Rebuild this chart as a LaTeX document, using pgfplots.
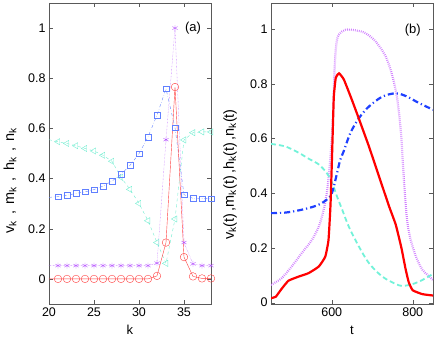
\documentclass[border=0pt]{standalone}
\usepackage{pgfplots}
\pgfplotsset{compat=1.18}
\usepackage{fontspec}
\setmainfont{Liberation Sans}

\definecolor{cred}{rgb}{1,0.25,0.25}
\definecolor{cblue}{rgb}{0.38,0.5,1}
\definecolor{ccyan}{rgb}{0.45,0.93,0.82}
\definecolor{cviol}{rgb}{0.72,0.35,1}
\definecolor{dred}{rgb}{1,0,0}
\definecolor{dblue}{rgb}{0.12,0.25,1}
\definecolor{dcyan}{rgb}{0.45,0.95,0.85}
\definecolor{dviol}{rgb}{0.82,0.5,1}

\newcommand{\sk}{\textsubscript{k}}

\pgfplotsset{
  panel/.style={
    scale only axis, width=162pt, height=301pt,
    tick align=inside, major tick length=4pt,
    axis line style={black!65}, tick style={black!65},
    every tick label/.append style={font=\fontsize{12.5}{14}\selectfont},
    label style={font=\fontsize{13}{15}\selectfont},
    ylabel style={font=\fontsize{14.5}{16}\selectfont},
    /pgf/number format/assume math mode=true,
    ytick={0,0.2,0.4,0.6,0.8,1},
    yticklabels={0,0.2,0.4,0.6,0.8,1},
    xlabel style={at={(axis description cs:0.5,0)},anchor=center,yshift=-26pt},
  }
}

\begin{document}
\begin{tikzpicture}
\useasboundingbox (-49pt,-36pt) rectangle (387pt,304pt);

% (a): profiles over k
\begin{axis}[panel, at={(0pt,0pt)}, anchor=south west,
  xmin=20, xmax=38, ymin=-0.1, ymax=1.1,
  xtick={20,25,30,35},
  xlabel={k},
  ylabel={v\sk\hspace{6pt},\hspace{6pt}m\sk\hspace{6pt},\hspace{6pt}h\sk\hspace{6pt},\hspace{6pt}n\sk},
  ylabel style={at={([xshift=-39pt]axis description cs:0,0.41)},anchor=center},
]
\addplot[cviol, densely dotted, mark=asterisk, mark size=3pt,
  mark indices={2,...,19}, mark options={solid}] coordinates {
  (20,0.053) (21,0.053) (22,0.053) (23,0.053) (24,0.053) (25,0.053)
  (26,0.053) (27,0.053) (28,0.053) (29,0.053) (30,0.053) (31,0.053)
  (32,0.063) (33,0.555) (34,1.0) (35,0.145) (36,0.06) (37,0.053) (38,0.053)
};
\addplot[ccyan, dashed, mark=triangle, mark size=3.6pt,
  mark indices={2,...,19}, mark options={solid, rotate=90}] coordinates {
  (20,0.555) (21,0.547) (22,0.54) (23,0.531) (24,0.52) (25,0.51)
  (26,0.493) (27,0.469) (28,0.405) (29,0.357) (30,0.301) (31,0.232)
  (32,0.145) (33,0.062) (34,0.239) (35,0.554) (36,0.583) (37,0.586) (38,0.586)
};
\addplot[cblue, dash dot, mark=square, mark size=2.8pt,
  mark indices={2,...,19}, mark options={solid}] coordinates {
  (20,0.325) (21,0.328) (22,0.333) (23,0.341) (24,0.347) (25,0.356)
  (26,0.37) (27,0.39) (28,0.417) (29,0.453) (30,0.499) (31,0.566)
  (32,0.653) (33,0.758) (34,0.603) (35,0.336) (36,0.321) (37,0.32) (38,0.32)
};
\addplot[cred, mark=o, mark size=3.8pt, mark indices={2,...,19}] coordinates {
  (20,0) (21,0) (22,0) (23,0) (24,0) (25,0) (26,0) (27,0) (28,0) (29,0)
  (30,0) (31,0) (32,0.012) (33,0.145) (34,0.765) (35,0.087) (36,0.01)
  (37,0.002) (38,0.002)
};
\node[font=\fontsize{13}{15}\selectfont] at (axis cs:36,1.0) {(a)};
\end{axis}

% (b): time courses
\begin{axis}[panel, at={(222pt,0pt)}, anchor=south west,
  xmin=450, xmax=850, ymin=-0.005, ymax=1.095,
  xtick={600,800},
  xlabel={t},
  ylabel={v\sk(t)\hspace{2pt},m\sk(t)\hspace{2pt},h\sk(t)\hspace{2pt},n\sk(t)},
  ylabel style={at={([xshift=-41pt]axis description cs:0,0.43)},anchor=center},
]
\addplot[dviol, line width=2.2pt, dash pattern=on 0.8pt off 1.2pt, smooth] coordinates {
  (450,0.065) (476,0.089) (501,0.132) (526,0.181) (551,0.229) (568,0.278)
  (580,0.339) (589,0.412) (594,0.485) (598,0.558) (603,0.68) (607,0.85)
  (611,0.94) (617,0.979) (634,0.997) (659,0.995) (683,0.985) (708,0.955)
  (733,0.9) (750,0.827) (762,0.741) (771,0.62) (776,0.497) (779,0.43)
  (783,0.35) (787,0.29) (795,0.229) (808,0.168) (824,0.12) (850,0.083)
};
\addplot[dcyan, line width=1.8pt, dash pattern=on 5pt off 3pt, smooth] coordinates {
  (450,0.58) (485,0.571) (518,0.548) (543,0.526) (568,0.505) (588,0.473)
  (601,0.437) (613,0.388) (626,0.339) (642,0.278) (667,0.205) (692,0.144)
  (725,0.095) (758,0.068) (775,0.061) (800,0.068) (824,0.083) (850,0.105)
};
\addplot[dblue, line width=2.2pt, dash pattern=on 6pt off 3pt on 1.2pt off 3pt, smooth] coordinates {
  (450,0.327) (485,0.329) (518,0.337) (551,0.349) (576,0.364) (597,0.39)
  (605,0.424) (613,0.473) (621,0.522) (630,0.555) (646,0.62) (667,0.674)
  (692,0.717) (725,0.753) (758,0.765) (783,0.755) (816,0.729) (850,0.705)
};
\addplot[dred, line width=2.2pt, smooth, tension=0.25] coordinates {
  (450,0.016) (462,0.022) (476,0.05) (493,0.08) (518,0.095) (543,0.108)
  (568,0.132) (584,0.168) (592,0.229) (597,0.36) (601,0.55) (605,0.75)
  (610,0.822) (618,0.838) (630,0.815) (650,0.74) (670,0.66) (692,0.57)
  (717,0.46) (742,0.35) (758,0.285) (772,0.2) (782,0.125) (790,0.075)
  (800,0.045) (824,0.031) (850,0.026)
};
\node[font=\fontsize{13}{15}\selectfont] at (axis cs:800,0.995) {(b)};
\end{axis}
\end{tikzpicture}
\end{document}
